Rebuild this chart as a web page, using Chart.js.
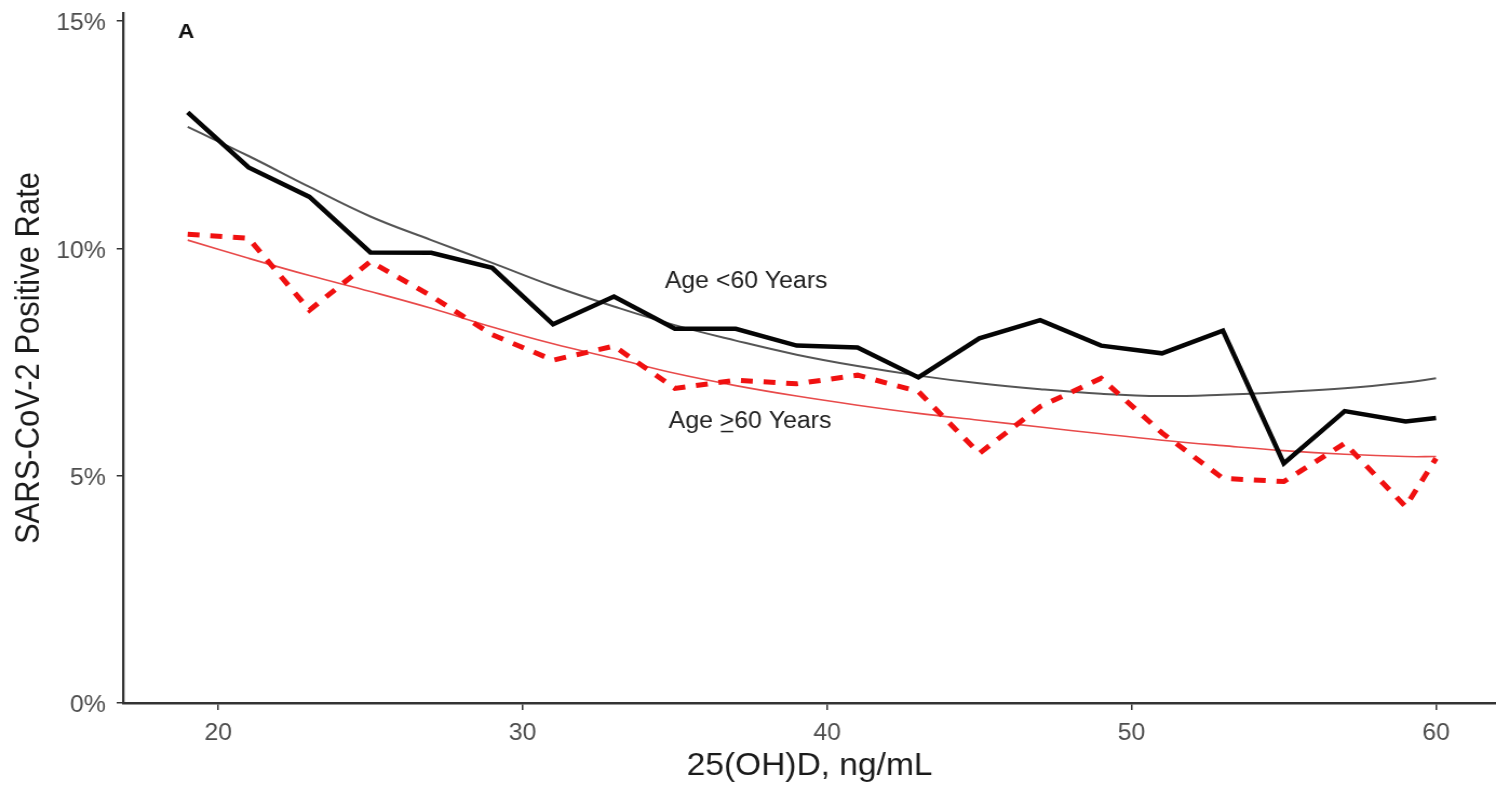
<!DOCTYPE html>
<html><head><meta charset="utf-8">
<script src="https://cdn.jsdelivr.net/npm/chart.js@4.4.0/dist/chart.umd.min.js"></script>
<style>html,body{margin:0;padding:0;background:#fff;overflow:hidden}#wrap{width:1496px;height:787px;position:relative}
#c{display:block;width:1496px;height:787px}</style>
</head><body><div id="wrap"><canvas id="c" width="1385" height="787" style="width:1496px;height:787px"></canvas></div>
<script>
const xValues   = [19,21,23,25,27,29,31,33,35,37,39,41,43,45,47,49,51,53,55,57,59,60];
const under60   = [12.99,11.78,11.13,9.91,9.90,9.57,8.33,8.94,8.23,8.23,7.86,7.82,7.16,8.02,8.42,7.86,7.69,8.19,5.27,6.42,6.19,6.27];
const over60    = [10.31,10.22,8.64,9.71,8.95,8.10,7.54,7.85,6.92,7.10,7.02,7.21,6.85,5.49,6.52,7.14,5.94,4.94,4.87,5.71,4.32,5.38];
const under60Fit= [12.67,12.03,11.35,10.70,10.18,9.68,9.17,8.72,8.31,7.97,7.66,7.41,7.20,7.03,6.90,6.80,6.75,6.78,6.84,6.92,7.05,7.14];
const over60Fit = [10.18,9.78,9.40,9.05,8.68,8.27,7.90,7.58,7.25,6.98,6.75,6.55,6.37,6.22,6.07,5.92,5.78,5.66,5.55,5.47,5.42,5.42];
const xTicks = [20,30,40,50,60];
const yTicks = [0,5,10,15];
const labelUnder = "Age <60 Years";
const labelOverPre = "Age ", labelOverSym = ">", labelOverPost = "60 Years";
const panelLabel = "A";

const pts = arr => xValues.map((x,i)=>({x:x,y:arr[i]}));
const FONT = "'Liberation Sans', Arial, Helvetica, sans-serif";

const annot = {
  id:'annot',
  afterDatasetsDraw(chart){
    const {ctx, scales:{x,y}} = chart;
    ctx.save();
    ctx.fillStyle = '#222';
    ctx.font = '23px ' + FONT;
    ctx.textBaseline = 'middle';
    ctx.textAlign = 'center';
    ctx.fillText(labelUnder, x.getPixelForValue(37.34), y.getPixelForValue(9.27));
    const full = labelOverPre + labelOverSym + labelOverPost;
    const w = ctx.measureText(full).width;
    const cx = x.getPixelForValue(37.47), cy = y.getPixelForValue(6.19);
    const sx = cx - w/2;
    ctx.textAlign = 'left';
    const w1 = ctx.measureText(labelOverPre).width;
    const w2 = ctx.measureText(labelOverSym).width;
    ctx.fillText(labelOverPre, sx, cy);
    ctx.fillText(labelOverSym, sx + w1, cy);
    ctx.fillText(labelOverPost, sx + w1 + w2, cy);
    ctx.strokeStyle = '#222'; ctx.lineWidth = 1.5;
    ctx.beginPath(); ctx.moveTo(sx + w1 + 1, cy + 10); ctx.lineTo(sx + w1 + w2 - 1, cy + 10); ctx.stroke();
    ctx.font = 'bold 21px ' + FONT;
    ctx.textAlign = 'center';
    ctx.fillStyle = '#111';
    ctx.fillText(panelLabel, x.getPixelForValue(18.95), y.getPixelForValue(14.75));
    ctx.restore();
  }
};

new Chart(document.getElementById('c'), {
  type:'line',
  data:{datasets:[
    {label:'under60Fit', data:pts(under60Fit), borderColor:'#555555', borderWidth:2, pointRadius:0, tension:0.4, order:4},
    {label:'over60Fit', data:pts(over60Fit), borderColor:'#e84a4a', borderWidth:1.6, pointRadius:0, tension:0.4, order:3},
    {label:'over60', data:pts(over60), borderColor:'#f01010', borderWidth:5, borderDash:[11,10], pointRadius:0, tension:0, order:2},
    {label:'under60', data:pts(under60), borderColor:'#050505', borderWidth:4.5, pointRadius:0, tension:0, order:1}
  ]},
  options:{
    responsive:false, animation:false, devicePixelRatio:1,
    layout:{padding:{top:13,right:0,left:0,bottom:0}},
    plugins:{legend:{display:false}, tooltip:{enabled:false}},
    scales:{
      x:{type:'linear', min:16.88, max:61.97,
        afterFit(s){s.height=84; s.paddingLeft=0; s.paddingRight=0;},
        afterBuildTicks(s){s.ticks=xTicks.map(v=>({value:v}));},
        ticks:{font:{family:FONT,size:23}, color:'#4d4d4d', padding:10, maxRotation:0},
        grid:{drawOnChartArea:false, drawTicks:true, tickLength:7, color:'#333', lineWidth:1.5},
        border:{display:true, color:'#333', width:2.5},
        title:{display:true, text:'25(OH)D, ng/mL', font:{family:FONT,size:31}, color:'#1a1a1a', padding:{top:0,bottom:2}}
      },
      y:{type:'linear', min:0, max:15.175,
        afterFit(s){s.width=114; s.paddingTop=0; s.paddingBottom=0;},
        afterBuildTicks(s){s.ticks=yTicks.map(v=>({value:v}));},
        ticks:{font:{family:FONT,size:23}, color:'#4d4d4d', padding:10, labelOffset:3, callback:v=>v+'%'},
        grid:{drawOnChartArea:false, drawTicks:true, tickLength:6, color:'#333', lineWidth:1.5},
        border:{display:true, color:'#333', width:2.3},
        title:{display:true, text:'SARS-CoV-2 Positive Rate', font:{family:FONT,size:31}, color:'#1a1a1a', padding:{top:9,bottom:0}}
      }
    }
  },
  plugins:[annot]
});
</script></body></html>
